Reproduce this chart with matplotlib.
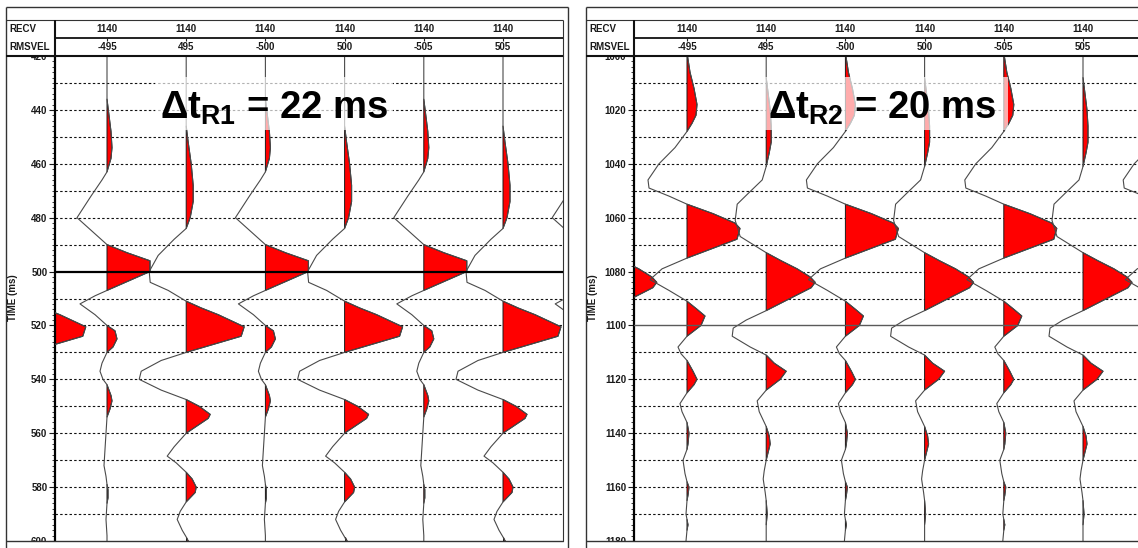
import numpy as np
import matplotlib
matplotlib.use('Agg')
import matplotlib.pyplot as plt
from matplotlib.patches import Rectangle
from matplotlib.lines import Line2D

plt.rcParams['font.family'] = ['Liberation Sans', 'DejaVu Sans']
plt.rcParams['mathtext.fontset'] = 'custom'
plt.rcParams['mathtext.rm'] = 'Liberation Sans'
plt.rcParams['mathtext.bf'] = 'Liberation Sans:bold'

# ---------------- data ----------------
recv_labels = ['1140', '1140', '1140', '1140', '1140', '1140']
rmsvel_labels = ['-495', '495', '-500', '500', '-505', '505']

# Left panel (window 420-600 ms): wavelet for negative-velocity traces
left_neg_t = [420, 436, 442, 448, 454, 458, 463, 466, 472, 480, 485, 490, 493, 496, 500, 507,
              509, 512, 516, 520, 522, 525, 528, 530, 534, 537, 540, 542, 546, 548, 551, 554,
              560, 566, 572, 576, 579, 581, 584, 586, 592, 598, 600]
left_neg_a = [0, 0, 2, 4, 5, 4, 0, -5, -16, -30, -15, 0, 20, 43, 43, 0,
              -12, -27, -12, 0, 8, 10, 6, 0, -5, -7, -4, 0, 4, 5, 3, 0,
              -1, -2, -3, -1, 0, 1, 1, 0, -1, 0, 0]
# Left panel: wavelet for positive-velocity traces
left_pos_t = [420, 446, 452, 460, 468, 474, 480, 484, 488, 494, 500, 504, 507, 511, 513.5, 516,
              520.5, 524, 530, 533, 537, 540, 544, 547.5, 550, 553, 554.5, 560, 565, 568.5, 571,
              574.5, 577, 580, 582, 585.5, 589, 592, 596, 598.5, 600]
left_pos_a = [0, 0, 2, 5, 7, 7, 4, 0, -12, -28, -37, -36, -18, 0, 15, 32,
              58, 55, 0, -25, -45, -47, -25, 0, 13, 24, 22, 0, -12, -19, -10,
              0, 6, 10, 9, 0, -6, -9, -4, 0, 2]

# Right panel (window 1000-1180 ms)
right_neg_t = [1000, 1006, 1012, 1018, 1022, 1025, 1028, 1034, 1040, 1046, 1049, 1052, 1055,
               1058.5, 1062, 1064, 1068, 1075, 1079, 1083, 1087, 1091, 1094, 1096.5, 1100, 1104,
               1108, 1110.5, 1113, 1117, 1120, 1122, 1125, 1129, 1132, 1136, 1140, 1144, 1146,
               1150, 1155, 1158, 1160, 1163, 1165, 1170, 1172, 1174, 1176, 1180]
right_neg_a = [0.5, 3, 7, 10, 9, 5, 0, -12, -28, -39, -38, -18, 0,
               26, 48, 53, 50, 0, -25, -37, -18, 0, 10, 18, 14, 0,
               -9, -6, 0, 6, 10, 7, 0, -7, -5, 0, 2, 1, 0,
               -4, -2, 0, 2, 1, 0, -1, 0, 1, 0, -1]
right_pos_t = [1000, 1008, 1014, 1020, 1026, 1032, 1036, 1041, 1046, 1051, 1055, 1061, 1067,
               1073, 1076, 1079, 1082, 1084, 1086, 1094.5, 1098, 1101, 1104, 1108, 1111, 1114,
               1117, 1120, 1124, 1128, 1132, 1137.5, 1141, 1144, 1147, 1150, 1154, 1157, 1162,
               1165, 1170, 1174, 1180]
right_pos_a = [0, 0, 2, 4, 5, 5, 3, 0, -4, -18, -29, -31, -26,
               0, 15, 31, 44, 49, 45, 0, -20, -33, -34, -16, 0, 8,
               20, 14, 0, -9, -7, 0, 3, 4, 2, 0, -2, -3, -1,
               0, 1, 0, 0]

trace_index = [-1, 0, 1, 2, 3, 4, 5, 6]   # -1 and 6 lie partly outside the window

# ---------------- layout ----------------
W, H = 1138, 548
fig = plt.figure(figsize=(W / 100, H / 100), dpi=100)
SPACING = 79.2  # px per trace


def fx(px):
    return px / W


def fy(py):
    return 1 - py / H


def fline(x1, y1, x2, y2, color='#222222', lw=1.0, z=6):
    fig.add_artist(Line2D([fx(x1), fx(x2)], [fy(y1), fy(y2)], transform=fig.transFigure,
                          color=color, lw=lw, zorder=z, solid_capstyle='butt'))


def draw_trace(ax, x0, t, a):
    t = np.asarray(t, float)
    a = np.asarray(a, float) / SPACING
    ax.fill_betweenx(t, x0, x0 + a, where=a > 0, interpolate=True, facecolor='#ff0000',
                     edgecolor='#1a1a1a', lw=0.7, zorder=2)
    ax.plot(x0 + a, t, color='#4a4a4a', lw=0.8, zorder=3)


panels = [
    dict(left=6, axl=55, axr=563, outer_r=568, tmin=420, tmax=600, solid=500,
         solid_c='black', solid_lw=1.6, first=107,
         neg=(left_neg_t, left_neg_a), pos=(left_pos_t, left_pos_a),
         label=r'Δt$_{\mathbf{R1}}$ = 22 ms', box=(155, 393, 77, 130), txt=(160, 119)),
    dict(left=586, axl=634, axr=1138, outer_r=None, tmin=1000, tmax=1180, solid=1100,
         solid_c='#5a5a5a', solid_lw=1.0, first=687,
         neg=(right_neg_t, right_neg_a), pos=(right_pos_t, right_pos_a),
         label=r'Δt$_{\mathbf{R2}}$ = 20 ms', box=(760, 1008, 77, 130), txt=(768, 119)),
]

top_y, bot_y = 56, 541
for p in panels:
    ax = fig.add_axes([fx(p['axl']), fy(bot_y), (p['axr'] - p['axl']) / W, (bot_y - top_y) / H])
    ppm = (bot_y - top_y) / (p['tmax'] - p['tmin'])
    x_lo = (p['axl'] - p['first']) / SPACING
    x_hi = (p['axr'] - p['first']) / SPACING
    ax.set_xlim(x_lo, x_hi)
    ax.set_ylim(p['tmax'], p['tmin'])

    # grid
    for tt in range(p['tmin'] + 10, p['tmax'], 10):
        if tt == p['solid']:
            continue
        ax.axhline(tt, color='#111111', lw=0.8, ls=(0, (2.2, 2.0)), zorder=1)
    ax.axhline(p['solid'], color=p['solid_c'], lw=p['solid_lw'], zorder=4)

    for i in trace_index:
        t, a = p['pos'] if i % 2 else p['neg']
        draw_trace(ax, i, t, a)

    # text box
    bx0, bx1, by0, by1 = p['box']
    X0 = (bx0 - p['first']) / SPACING
    X1 = (bx1 - p['first']) / SPACING
    Y0 = p['tmin'] + (by0 - top_y) / ppm
    Y1 = p['tmin'] + (by1 - top_y) / ppm
    ax.add_patch(Rectangle((X0, Y0), X1 - X0, Y1 - Y0, facecolor='white', alpha=0.68,
                           edgecolor='none', zorder=5))
    tx = (p['txt'][0] - p['first']) / SPACING
    ty = p['tmin'] + (p['txt'][1] - top_y) / ppm
    ax.text(tx, ty, p['label'], fontsize=27.5, fontweight='bold', color='black',
            ha='left', va='baseline', zorder=6)

    # axes styling
    ax.set_xticks([])
    ax.set_yticks(np.arange(p['tmin'], p['tmax'] + 1, 20))
    ax.set_yticks(np.arange(p['tmin'], p['tmax'] + 1, 2), minor=True)
    ax.tick_params(axis='y', which='major', length=4, width=0.8, labelsize=7, pad=1.5,
                   colors='#1a1a1a')
    ax.tick_params(axis='y', which='minor', length=2.5, width=0.6, colors='#1a1a1a')
    for lb in ax.get_yticklabels():
        lb.set_fontweight('bold')
    ax.spines['left'].set_linewidth(1.6)
    ax.spines['left'].set_color('black')
    ax.spines['top'].set_visible(False)
    ax.spines['bottom'].set_visible(False)
    if p['outer_r'] is None:
        ax.spines['right'].set_visible(False)
    else:
        ax.spines['right'].set_linewidth(0.8)
        ax.spines['right'].set_color('#333333')

    # header cover + frame
    L = p['left']
    R = p['outer_r'] if p['outer_r'] is not None else W
    fig.add_artist(Rectangle((fx(L + 0.5), fy(55.5)), (p['axr'] - L - 1) / W, (55.5 - 7.5) / H,
                             transform=fig.transFigure, facecolor='white', edgecolor='none',
                             zorder=5))
    fig.add_artist(Rectangle((fx(L + 0.5), fy(H)), (p['axr'] - L - 1) / W, (H - 541.5) / H,
                             transform=fig.transFigure, facecolor='white', edgecolor='none',
                             zorder=5))
    fline(L, 7, R, 7, color='#333333', lw=1.0)
    fline(L, 7, L, H, color='#333333', lw=1.0)
    if p['outer_r'] is not None:
        fline(R, 7, R, H, color='#333333', lw=1.0)
        fline(p['axr'], 20, p['axr'], 56, color='#333333', lw=0.8)
    fline(L, 20, p['axr'], 20, color='#333333', lw=0.8)
    fline(p['axl'], 38, p['axr'], 38, color='#222222', lw=1.4)
    fline(L, 56, p['axr'], 56, color='#111111', lw=1.5)
    fline(p['axl'], 20, p['axl'], 56, color='#111111', lw=1.5)
    fline(L, bot_y, p['axr'], bot_y, color='#333333', lw=1.0)

    fig.text(fx(L + 3), fy(29), 'RECV', fontsize=7, fontweight='bold', ha='left',
             va='center', zorder=7, color='#1a1a1a')
    fig.text(fx(L + 3), fy(47), 'RMSVEL', fontsize=7, fontweight='bold', ha='left',
             va='center', zorder=7, color='#1a1a1a')
    for k, (rv, vl) in enumerate(zip(recv_labels, rmsvel_labels)):
        xx = p['first'] + k * SPACING
        fig.text(fx(xx), fy(29), rv, fontsize=7, fontweight='bold', ha='center',
                 va='center', zorder=7, color='#1a1a1a')
        fig.text(fx(xx), fy(47), vl, fontsize=7, fontweight='bold', ha='center',
                 va='center', zorder=7, color='#1a1a1a')
        fline(xx, 38, xx, 41, color='#222222', lw=0.8, z=7)
    fig.text(fx(L + 7), fy(298), 'TIME (ms)', fontsize=7, fontweight='bold', rotation=90,
             ha='center', va='center', color='#1a1a1a', zorder=7)

fig.savefig('out.png', dpi=100)
